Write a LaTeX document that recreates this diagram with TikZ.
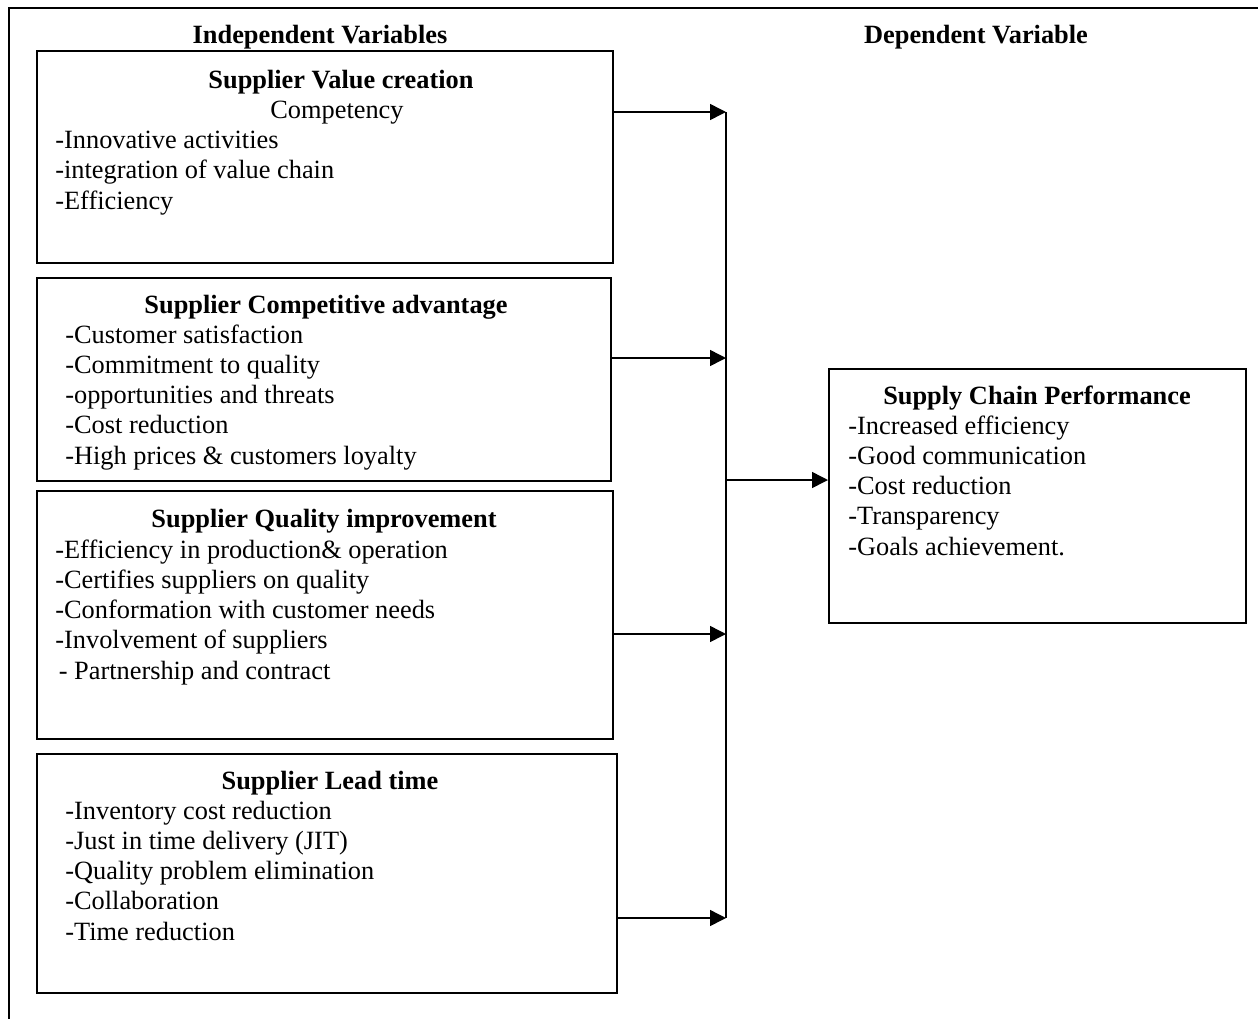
\documentclass[tikz,border=0pt]{standalone}
\usepackage{fontspec}
\setmainfont{Liberation Serif}
\usetikzlibrary{arrows.meta,positioning}
\tikzset{
    box/.style={draw, line width=1.4pt, inner sep=0pt, anchor=north west}, % framed variable blocks
    head/.style={anchor=base, inner sep=0pt, font=\fontsize{15}{17.2}\selectfont\bfseries}, % block titles
    items/.style={anchor=base west, inner sep=0pt, align=left, font=\fontsize{15}{17.2}\selectfont}, % placed by last line
    feed/.style={-{Triangle[length=9pt, width=9pt]}, line width=0.85pt}
}
\begin{document}
\begin{tikzpicture}[x=0.02cm, y=-0.02cm]
    \useasboundingbox (0,0) rectangle (1258,1018);
    \draw[line width=1.1pt] (9,1040) -- (9,8) -- (1280,8);

    \node[head] (hind) at (320,43) {Independent Variables};
    \node[head] (hdep) at (976,43) {Dependent Variable};

    % value creation
    \node[box, minimum width=11.52cm, minimum height=4.24cm] (vc) at (36,50) {};
    \node[head] (vct) at (341,88) {Supplier Value creation};
    \node[items, anchor=base] (vcs) at (337,118) {Competency};
    \node[items] (vcl) at (55,209) {-Innovative activities\\-integration of value chain\\-Efficiency};

    % competitive advantage
    \node[box, minimum width=11.48cm, minimum height=4.06cm] (ca) at (36,277) {};
    \node[head] (cat) at (326,313) {Supplier Competitive advantage};
    \node[items] (cal) at (65,464) {-Customer satisfaction\\-Commitment to quality\\-opportunities and threats\\-Cost reduction\\-High prices \& customers loyalty};

    % quality improvement
    \node[box, minimum width=11.52cm, minimum height=4.96cm] (qi) at (36,490) {};
    \node[head] (qit) at (324,527) {Supplier Quality improvement};
    \node[items] (qil) at (55,679) {-Efficiency in production\& operation\\-Certifies suppliers on quality\\-Conformation with customer needs\\-Involvement of suppliers\\\hspace*{2pt}- Partnership and contract};

    % lead time
    \node[box, minimum width=11.6cm, minimum height=4.78cm] (lt) at (36,753) {};
    \node[head] (ltt) at (330,789) {Supplier Lead time};
    \node[items] (ltl) at (65,940) {-Inventory cost reduction\\-Just in time delivery (JIT)\\-Quality problem elimination\\-Collaboration\\-Time reduction};

    % dependent variable
    \node[box, minimum width=8.34cm, minimum height=5.08cm] (scp) at (828,368) {};
    \node[head] (scpt) at (1037,404) {Supply Chain Performance};
    \node[items] (scpl) at (848,555) {-Increased efficiency\\-Good communication\\-Cost reduction\\-Transparency\\-Goals achievement.};

    % bus
    \coordinate (bt) at (726,112);
    \coordinate (b2) at (726,358);
    \coordinate (bm) at (726,480);
    \coordinate (b3) at (726,634);
    \coordinate (bb) at (726,918);
    \draw[line width=1pt] (bt) -- (bb);
    \draw[feed] (vc.east |- bt) -- (bt);
    \draw[feed] (ca.east |- b2) -- (b2);
    \draw[feed] (qi.east |- b3) -- (b3);
    \draw[feed] (lt.east |- bb) -- (bb);
    \draw[feed] (bm) -- (scp.west |- bm);
\end{tikzpicture}
\end{document}
